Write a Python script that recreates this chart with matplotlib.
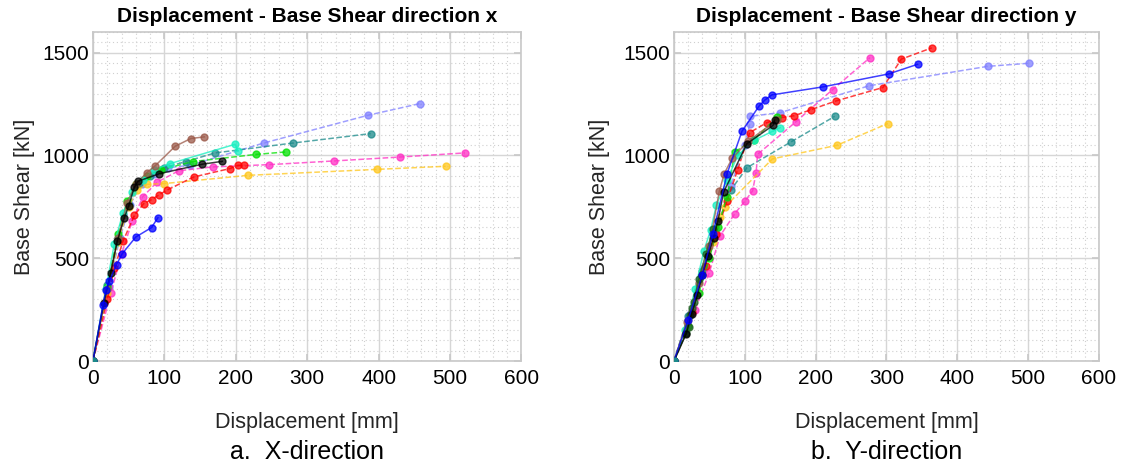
"""Displacement vs base shear (pushover curves), x and y directions."""
import numpy as np
import matplotlib
matplotlib.use("Agg")
import matplotlib.pyplot as plt
from matplotlib.ticker import MultipleLocator

plt.rcParams["font.family"] = ["Liberation Sans", "DejaVu Sans"]

# --------------------------------------------------------------------------- #
# data: (displacement [mm], base shear [kN]) per curve
# --------------------------------------------------------------------------- #
X_CURVES = {
    "periwinkle": ([0, 22, 38, 52, 68, 85, 105, 136, 239, 385, 458],
                   [0, 360, 600, 760, 860, 910, 940, 952, 1060, 1195, 1252]),
    "teal": ([0, 20, 35, 50, 65, 80, 100, 130, 171, 280, 389],
             [0, 370, 600, 760, 860, 900, 940, 970, 1012, 1060, 1106]),
    "magenta": ([0, 25, 40, 55, 70, 90, 120, 168, 247, 338, 430, 521],
                [0, 330, 520, 680, 800, 870, 925, 944, 955, 973, 992, 1012]),
    "gold": ([0, 20, 35, 50, 62, 75, 100, 217, 398, 494],
             [0, 330, 580, 750, 830, 859, 863, 903, 932, 947]),
    "red": ([0, 20, 30, 42, 58, 71, 82, 93, 103, 141, 192, 203, 212],
            [0, 300, 450, 582, 709, 765, 785, 809, 830, 895, 936, 952, 952]),
    "green": ([0, 20, 35, 48, 60, 75, 95, 140, 229, 271],
              [0, 360, 620, 780, 860, 900, 930, 970, 1005, 1017]),
    "aqua": ([0, 18, 30, 42, 55, 70, 85, 108, 199, 203],
             [0, 350, 570, 720, 820, 880, 930, 960, 1054, 1022]),
    "brown": ([0, 20, 35, 48, 60, 75, 87, 115, 137, 156],
              [0, 350, 600, 770, 860, 915, 949, 1044, 1082, 1090]),
    "black": ([0, 15, 25, 34, 44, 50, 58, 63, 93, 153, 181],
              [0, 280, 430, 582, 697, 754, 845, 874, 911, 957, 971]),
    "blue": ([0, 14, 18, 23, 33, 41, 60, 82, 91],
             [0, 271, 344, 388, 469, 522, 603, 649, 697]),
}

Y_CURVES = {
    "periwinkle": ([0, 22, 42, 60, 80, 100, 107, 108, 150, 276, 443, 501],
                   [0, 230, 450, 640, 850, 1050, 1151, 1190, 1208, 1339, 1433, 1448]),
    "teal": ([0, 20, 40, 55, 80, 103, 165, 227],
             [0, 220, 440, 600, 830, 940, 1065, 1190]),
    "magenta": ([0, 30, 50, 65, 86, 100, 111, 116, 118, 172, 224, 277],
                [0, 250, 430, 608, 717, 777, 827, 916, 1005, 1163, 1320, 1476]),
    "gold": ([0, 20, 40, 55, 65, 72, 139, 230, 302],
             [0, 200, 420, 580, 700, 749, 983, 1049, 1155]),
    "red": ([0, 25, 45, 60, 75, 90, 107, 131, 152, 170, 194, 229, 295, 321, 364],
            [0, 240, 460, 620, 780, 930, 1111, 1159, 1184, 1193, 1223, 1265, 1330, 1468, 1523]),
    "green": ([0, 20, 35, 50, 62, 75, 86, 113, 146],
              [0, 170, 330, 500, 650, 800, 1017, 1077, 1187]),
    "aqua": ([0, 15, 30, 42, 52, 60, 75, 90, 113, 139, 150],
             [0, 150, 350, 533, 639, 760, 880, 1000, 1073, 1117, 1135]),
    "brown": ([0, 18, 35, 50, 64, 71, 82, 105, 145],
              [0, 190, 380, 560, 825, 911, 985, 1070, 1171]),
    "darkgreen": ([0, 17, 21, 23, 26, 28, 35, 45, 55],
                  [0, 134, 163, 223, 256, 288, 400, 520, 640]),
    "black": ([0, 17, 25, 33, 40, 48, 56, 62, 70, 103, 140, 142],
              [0, 130, 230, 320, 420, 510, 600, 680, 820, 1057, 1146, 1171]),
    "blue": ([0, 20, 40, 55, 75, 96, 120, 128, 138, 210, 303, 344],
             [0, 200, 420, 620, 911, 1117, 1239, 1268, 1294, 1333, 1396, 1443]),
}

# colour and line style per curve
STYLE = {
    "periwinkle": ("#7f7fff", "--"),
    "teal": ("#1a8a8a", "--"),
    "magenta": ("#ff2ec4", "--"),
    "gold": ("#ffc61a", "--"),
    "red": ("#ff0000", "--"),
    "green": ("#00e000", "--"),
    "aqua": ("#14f0c0", "-"),
    "brown": ("#9a5848", "-"),
    "darkgreen": ("#1f5f1f", "-"),
    "black": ("#000000", "-"),
    "blue": ("#0000ff", "-"),
}

TITLES = ["Displacement - Base Shear direction x",
          "Displacement - Base Shear direction y"]
CAPTIONS = ["a.  X-direction", "b.  Y-direction"]

GRID_GRAY = "#c8c8c8"
LABEL_GRAY = "#262626"


def draw_panel(ax, curves, title, caption, ylabel_x):
    for name, (d, v) in curves.items():
        color, ls = STYLE[name]
        ax.plot(d, v, ls, color=color, lw=1.1, alpha=0.75,
                marker="o", ms=5, mec=color, mfc=color, zorder=3)
    ax.plot([0], [0], "o", color="#1a8a8a", ms=5, zorder=4)

    ax.set_xlim(0, 600)
    ax.set_ylim(0, 1600)
    ax.set_xticks(np.arange(0, 601, 100))
    ax.set_yticks([0, 500, 1000, 1500])
    ax.xaxis.set_minor_locator(MultipleLocator(20))
    ax.yaxis.set_minor_locator(MultipleLocator(50))
    ax.grid(which="major", color="#d6d6d6", lw=1.0, ls="-")
    ax.grid(which="minor", color="#cfcfcf", lw=0.8, ls=(0, (1, 2.5)))
    ax.set_axisbelow(True)

    ax.tick_params(which="both", direction="in", top=True, right=True,
                   colors=GRID_GRAY, labelcolor="black", labelsize=15)
    ax.tick_params(axis="y", pad=3)
    ax.tick_params(axis="x", pad=6)
    ax.tick_params(which="major", length=5, width=1.2)
    ax.tick_params(which="minor", length=0)
    for sp in ax.spines.values():
        sp.set_color(GRID_GRAY)
        sp.set_linewidth(1.2)

    ax.set_title(title, fontsize=15, fontweight="bold", pad=7)
    ax.set_xlabel("Displacement [mm]", fontsize=15.5, color=LABEL_GRAY)
    ax.xaxis.set_label_coords(0.5, -0.155)
    ax.set_ylabel("Base Shear [kN]", fontsize=15.5, color=LABEL_GRAY)
    ax.yaxis.set_label_coords(ylabel_x, 0.5)
    ax.text(0.5, -0.277, caption, transform=ax.transAxes, ha="center",
            va="center", fontsize=18)


fig = plt.figure(figsize=(11.24, 4.70), dpi=100)
ax1 = fig.add_axes([0.0827, 0.2319, 0.3812, 0.70])
ax2 = fig.add_axes([0.5996, 0.2319, 0.3781, 0.70])
draw_panel(ax1, X_CURVES, TITLES[0], CAPTIONS[0], -0.135)
draw_panel(ax2, Y_CURVES, TITLES[1], CAPTIONS[1], -0.15)

fig.savefig("out.png", dpi=100)
plt.close(fig)
